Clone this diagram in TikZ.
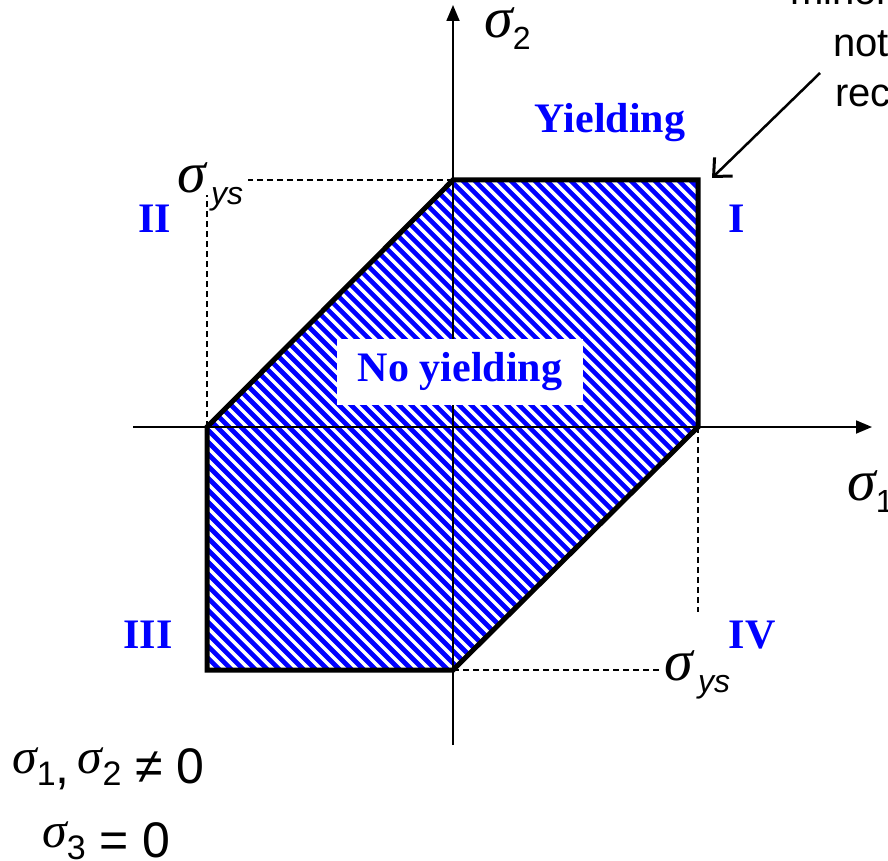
\documentclass[tikz,border=0pt]{standalone}
\usepackage{fontspec}
\setmainfont{Liberation Sans}
\newfontfamily\timesf{Liberation Serif}
\usetikzlibrary{arrows.meta}
\definecolor{hatchblue}{RGB}{0,0,255}
\newcommand{\sg}{{\timesf\itshape σ}}
% big axis-label sigma with subscript
\newcommand{\sigbig}[1]{{\fontsize{58}{64}\selectfont\sg}\raisebox{-12pt}{\fontsize{32}{38}\selectfont #1}}
% condition-text sigma (raised like the reference)
\newcommand{\sigsmall}[1]{\raisebox{10pt}{\fontsize{50}{56}\selectfont\sg}\raisebox{-2pt}{\fontsize{34}{40}\selectfont #1}}
\tikzset{
  romanlab/.style={font=\timesf\bfseries\fontsize{42}{48}\selectfont, text=hatchblue, inner sep=0pt},
  notelab/.style={font=\fontsize{40}{48}\selectfont, inner sep=0pt, anchor=base west},
  symlab/.style={inner sep=0pt, anchor=base west},
  axisline/.style={line width=1.8pt, -{Triangle[length=16pt,width=13pt]}},
  dashline/.style={line width=1.5pt, dash pattern=on 6pt off 4pt},
  hexline/.style={line width=5pt, line join=miter},
  hatch/.style={hatchblue, line width=4.6pt},
  pointer/.style={line width=2.5pt, -{Straight Barb[length=14pt,width=26pt,line width=3pt]}}
}
\begin{document}
\begin{tikzpicture}[x=1pt,y=-1pt]
\useasboundingbox (0,0) rectangle (888,861);
\clip (0,0) rectangle (888,861);
% vertices of the hexagon
\coordinate (A) at (453,180);
\coordinate (B) at (698,180);
\coordinate (C) at (698,427);
\coordinate (D) at (453,670);
\coordinate (E) at (207,670);
\coordinate (F) at (207,427);
% hatching
\begin{scope}
  \clip (A)--(B)--(C)--(D)--(E)--(F)--cycle;
  \foreach \c in {-372,-360,...,720} \draw[hatch] (\c,150) -- ++(560,560);
\end{scope}
% axes
\coordinate (xs) at (133,427);
\coordinate (xe) at (872,427);
\coordinate (ys) at (453,745);
\coordinate (ye) at (453,5);
\draw[axisline] (xs) -- (xe);
\draw[axisline] (ys) -- (ye);
% dashed guides
\coordinate (dtl) at (248,180);
\coordinate (dlb) at (207,195);
\coordinate (dbr) at (660,670);
\coordinate (drb) at (698,612);
\draw[dashline] (A) -- (dtl);
\draw[dashline] (F) -- (dlb);
\draw[dashline] (D) -- (dbr);
\draw[dashline] (C) -- (drb);
% No yielding box
\node[fill=white, minimum width=246pt, minimum height=66pt, inner sep=0pt,
      font=\timesf\bfseries\fontsize{42}{48}\selectfont, text=hatchblue] (ny) at (460,372) {No yielding};
% hexagon outline
\draw[hexline] (A)--(B)--(C)--(D)--(E)--(F)--cycle;
% region labels
\node[romanlab, anchor=base] (yl) at (610,133) {Yielding};
\node[romanlab, anchor=base] (q1) at (737,232) {I};
\node[romanlab, anchor=base] (q2) at (155,232) {II};
\node[romanlab, anchor=base] (q3) at (148,648) {III};
\node[romanlab, anchor=base] (q4) at (752,648) {IV};
% axis labels
\node[symlab] (s2) at (484,38) {\sigbig{2}};
\node[symlab] (s1) at (847,500) {\sigbig{1}};
\node[symlab] (syt) at (177,193) {\sigbig{\itshape\,ys}};
\node[symlab] (syb) at (664,680) {\sigbig{\itshape\,ys}};
% note text at top right
\node[notelab] (t1) at (790,5) {minor};
\node[notelab] (t2) at (833,57) {not};
\node[notelab] (t3) at (835,107) {recognized};
\coordinate (pstart) at (820,73);
\coordinate (ptip) at (712,178);
\draw[pointer] (pstart) -- (ptip);
% conditions
\node[symlab, font=\fontsize{50}{60}\selectfont] (c1) at (12,783) {\sigsmall{1},\,\sigsmall{2} ≠ 0};
\node[symlab, font=\fontsize{50}{60}\selectfont] (c2) at (42,857) {\sigsmall{3} = 0};
\end{tikzpicture}
\end{document}
